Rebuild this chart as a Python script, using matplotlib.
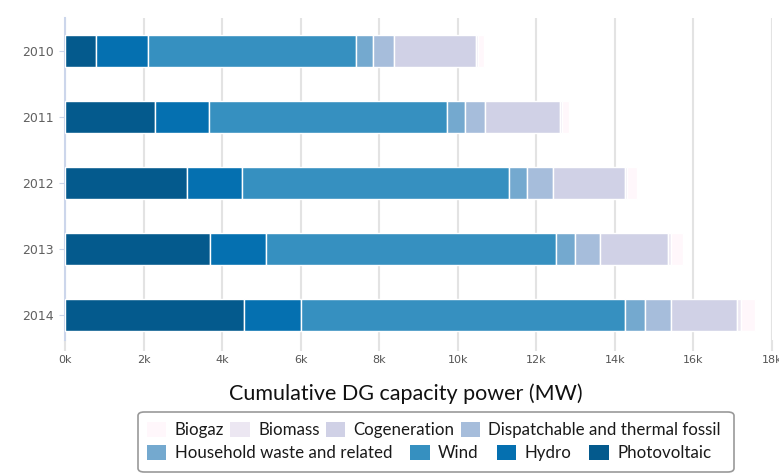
"""
Stacked horizontal bars of cumulative DG capacity per year, by source.
"""

import matplotlib
matplotlib.use("Agg")
from matplotlib import pyplot as plt
from matplotlib.patches import FancyBboxPatch, Patch
from matplotlib.ticker import FuncFormatter
import numpy as np


years = ["2010", "2011", "2012", "2013", "2014"]

# MW per source, stacked left to right in this order
photovoltaic = [780, 2290, 3110, 3700, 4560]
hydro = [1340, 1380, 1400, 1430, 1450]
wind = [5280, 6050, 6790, 7360, 8250]
household_waste = [430, 470, 470, 500, 510]
dispatchable_fossil = [550, 500, 660, 620, 650]
cogeneration = [2090, 1910, 1830, 1740, 1690]
biomass = [40, 50, 60, 80, 100]
biogaz = [150, 180, 250, 300, 360]

series = [
    ("Photovoltaic", photovoltaic, "#045a8d"),
    ("Hydro", hydro, "#0570b0"),
    ("Wind", wind, "#3690c0"),
    ("Household waste and related", household_waste, "#74a9cf"),
    ("Dispatchable and thermal fossil", dispatchable_fossil, "#a6bddb"),
    ("Cogeneration", cogeneration, "#d0d1e6"),
    ("Biomass", biomass, "#ece7f2"),
    ("Biogaz", biogaz, "#fff7fb"),
]

LABEL_FONT = ["Lato", "DejaVu Sans"]

fig = plt.figure(figsize=(7.79, 4.74), dpi=100)
ax = fig.add_axes([65 / 779, 1 - 340 / 474, (772 - 65) / 779, (340 - 18) / 474])

y = np.arange(len(years))
left = np.zeros(len(years))
for name, values, color in series:
    ax.barh(y, values, left=left, height=0.48, color=color,
            edgecolor="white", linewidth=1, label=name, zorder=3)
    left += np.array(values)

ax.set_xlim(0, 18000)
ax.set_ylim(len(years) - 1 + 0.38, -0.5)
ax.set_yticks(y)
ax.set_yticklabels(years)
ax.set_xticks(np.arange(0, 18001, 2000))
ax.xaxis.set_major_formatter(FuncFormatter(lambda v, _: f"{v / 1000:.0f}k"))

ax.grid(axis="x", color="#e3e3e3", linewidth=1.5, zorder=0)
for side in ("top", "right", "bottom"):
    ax.spines[side].set_visible(False)
ax.spines["left"].set_color("#ccd6eb")
ax.spines["left"].set_linewidth(1.5)
ax.tick_params(axis="y", length=4, color="#ccd6eb", labelsize=9,
               labelcolor="#606060", pad=4)
ax.tick_params(axis="x", length=8, color="#e3e3e3", width=1.5,
               labelsize=8, labelcolor="#555555", pad=3)

ax.set_xlabel("Cumulative DG capacity power (MW)", fontsize=15.5,
              family=LABEL_FONT, color="#111111")
ax.xaxis.set_label_coords(0.482, -0.135)

# Legend drawn as two flowing rows inside one rounded frame
handles = {name: Patch(facecolor=color, edgecolor="none") for name, _, color in series}
row1 = ["Biogaz", "Biomass", "Cogeneration", "Dispatchable and thermal fossil"]
row2 = ["Household waste and related", "Wind", "Hydro", "Photovoltaic"]
legend_kw = dict(ncol=4, frameon=False, handlelength=1.15, handleheight=1.0,
                 handletextpad=0.5, borderpad=0, borderaxespad=0,
                 loc="center left", prop={"family": LABEL_FONT, "size": 12.2})
leg1 = fig.legend([handles[n] for n in row1], row1, columnspacing=0.35,
                  bbox_to_anchor=(147 / 779, 1 - 430 / 474), **legend_kw)
leg2 = fig.legend([handles[n] for n in row2], row2, columnspacing=1.05,
                  bbox_to_anchor=(147 / 779, 1 - 453 / 474), **legend_kw)
for leg in (leg1, leg2):
    for text in leg.get_texts():
        text.set_color("#1a1a1a")

frame = FancyBboxPatch((138 / 779, 1 - 472 / 474), (734 - 138) / 779, (472 - 412) / 474,
                       boxstyle="round,pad=0,rounding_size=0.008",
                       transform=fig.transFigure, facecolor="none",
                       edgecolor="#999999", linewidth=1.2)
fig.patches.append(frame)

fig.savefig("out.png", dpi=100)
